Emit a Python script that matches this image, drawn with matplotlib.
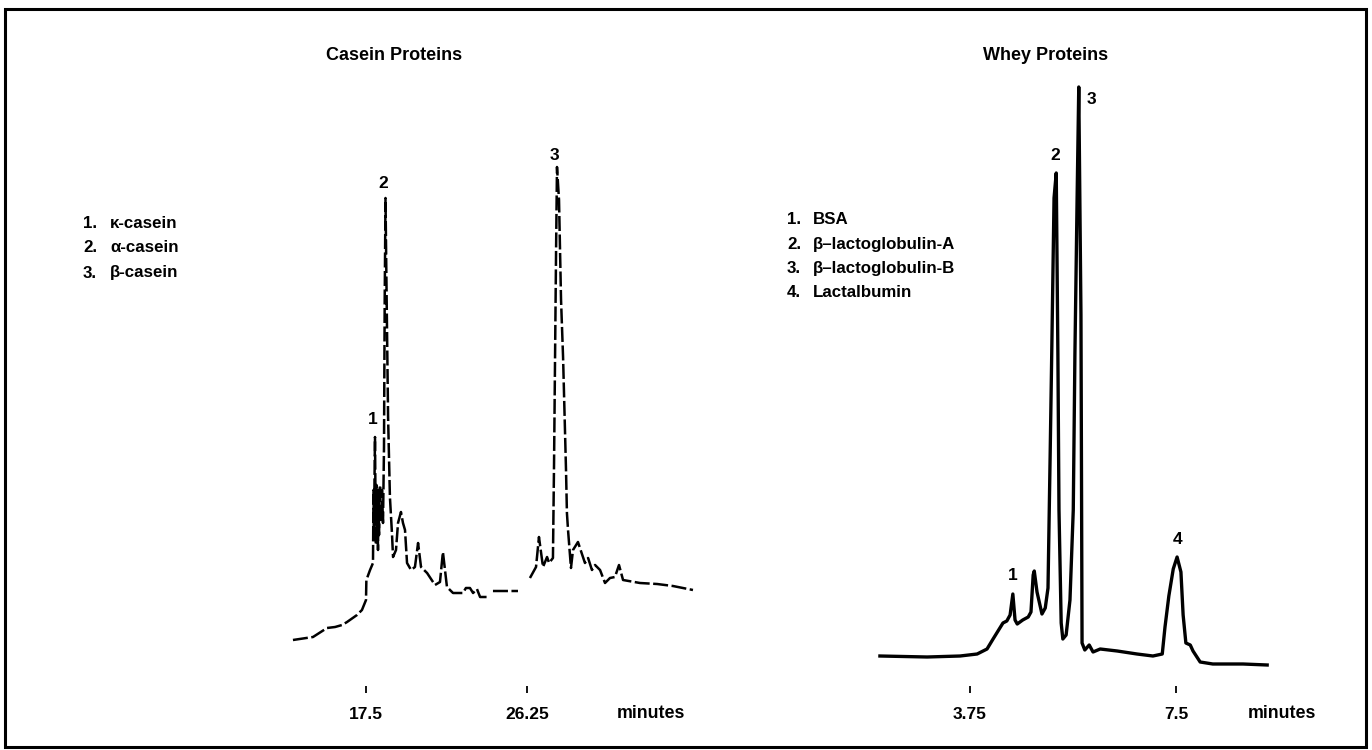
import numpy as np
import matplotlib
matplotlib.use("Agg")
import matplotlib.pyplot as plt
from matplotlib.patches import Rectangle

plt.rcParams['font.family'] = ['Liberation Sans', 'DejaVu Sans']
plt.rcParams['font.weight'] = 'bold'

# ---------------- data ----------------
nan = float('nan')
# Casein chromatogram (time in minutes, detector signal in arbitrary units); NaN = gap in trace
casein_time = [13.53, 14.62, 15.38, 15.82, 16.20, 16.47, 17.01, 17.28, 17.50, 17.52, 17.72, 17.88,
               17.908, 17.935, 17.962, 17.989, 18.016, 18.043, 18.071, 18.098, 18.125, 18.152,
               18.179, 18.207, 18.261, 18.315, 18.370, 18.424, 18.478, 18.516,
               18.56, 18.61, 18.70, 18.80, 18.91, 18.97, 19.13, 19.24, 19.40, 19.51, 19.62, 19.73,
               19.95, 20.16, 20.33, 20.49, 20.82, 21.25, 21.52, 21.68, 21.90, 22.23, 22.77, 22.93,
               23.15, 23.32, 23.53, 23.70, 24.13, nan, 24.40, 25.76, nan,
               26.41, 26.74, 26.90, 27.12, 27.34, 27.45, 27.66, 27.72, 27.83, 27.88, 27.99, 28.10,
               28.21, 28.37, 28.42, 28.48, 28.64, 28.75, 29.02, 29.40, 29.57, 29.78, 29.95, 30.22,
               30.49, 30.76, 31.03, 31.25, 31.47, 32.39, 33.32, 34.18, 35.27]
casein_signal = [10, 13, 22, 23, 25, 28, 35, 40, 50, 70, 80, 87,
                 160, 110, 170, 213, 150, 105, 165, 110, 155, 100,
                 160, 115, 165, 130, 160, 127, 203, 350,
                 452, 370, 233, 153, 117, 93, 100, 127, 138, 127, 120, 87,
                 80, 83, 107, 83, 77, 65, 68, 98, 63, 57, 57, 62,
                 62, 57, 61, 53, 53, nan, 59, 59, nan,
                 72, 83, 113, 83, 93, 87, 92, 187, 400, 483, 450, 350,
                 293, 180, 137, 120, 82, 100, 108, 87, 92, 80, 85, 80,
                 67, 72, 73, 85, 70, 67, 66, 64, 60]
casein_ticks = [17.5, 26.25]
casein_tick_labels = ["17.5", "26.25"]
casein_peak_ids = ["1", "2", "3"]
casein_peak_time = [17.88, 18.42, 27.72]
casein_peak_label_signal = [230, 466, 495]
casein_names = ["\u03ba-casein", "\u03b1-casein", "\u03b2-casein"]

# Whey chromatogram
whey_time = [2.11, 2.97, 3.57, 3.88, 4.06, 4.17, 4.26, 4.35, 4.42, 4.48, 4.53, 4.57, 4.61,
             4.71, 4.81, 4.86, 4.90, 4.92, 4.97, 5.06, 5.12, 5.17, 5.21, 5.24, 5.28, 5.32,
             5.35, 5.37, 5.41, 5.44, 5.50, 5.57, 5.63, 5.66, 5.70, 5.73, 5.77, 5.79, 5.84,
             5.92, 5.99, 6.12, 6.43, 6.79, 7.08, 7.25, 7.30, 7.37, 7.45, 7.52, 7.59, 7.63,
             7.68, 7.76, 7.81, 7.94, 8.17, 8.72, 9.16]
whey_signal = [14, 13, 14, 16, 21, 31, 39, 47, 49, 55, 76, 50, 46,
               50, 53, 58, 95, 99, 78, 56, 62, 82, 218, 324, 472, 497,
               316, 160, 47, 31, 35, 70, 160, 316, 472, 583, 355, 27, 20,
               25, 18, 21, 19, 16, 14, 16, 43, 74, 101, 113, 98, 55,
               27, 25, 19, 8, 6, 6, 5]
whey_ticks = [3.75, 7.5]
whey_tick_labels = ["3.75", "7.5"]
whey_peak_ids = ["1", "2", "3", "4"]
whey_peak_time = [4.53, 5.30, 5.97, 7.52]
whey_peak_label_signal = [94, 515, 571, 131]
whey_names = ["BSA", "\u03b2\u2013lactoglobulin-A", "\u03b2\u2013lactoglobulin-B", "Lactalbumin"]

# ---------------- layout ----------------
W, H = 1372, 750
fig = plt.figure(figsize=(W / 100, H / 100), dpi=100)

def fx(x):
    return x / W

def fy(y):
    return 1 - y / H

def make_axes(left, right, top, bottom, t_ref, px_ref, px_per_min, base_px):
    ax = fig.add_axes([fx(left), fy(bottom), fx(right - left), (bottom - top) / H])
    ax.set_xlim(t_ref + (left - px_ref) / px_per_min, t_ref + (right - px_ref) / px_per_min)
    ax.set_ylim(base_px - bottom, base_px - top)
    for sp in ax.spines.values():
        sp.set_visible(False)
    ax.set_yticks([])
    ax.patch.set_alpha(0)
    ax.tick_params(axis='x', direction='in', length=5, width=1.3, pad=10,
                   labelsize=12.5, colors='black')
    return ax

ax1 = make_axes(280, 710, 40, 693, 17.5, 366, 18.4, 650)
ax1.plot(casein_time, casein_signal, color='black', lw=1.8,
         linestyle=(0, (6, 1.4)), solid_joinstyle='round')
ax1.set_xticks(casein_ticks)
ax1.set_xticklabels(casein_tick_labels, fontweight='bold')
for pid, t, s in zip(casein_peak_ids, casein_peak_time, casein_peak_label_signal):
    ax1.text(t, s, pid, ha='center', va='center', fontsize=12.5, fontweight='bold')

ax2 = make_axes(870, 1330, 40, 693, 3.75, 970, 54.93, 670)
ax2.plot(whey_time, whey_signal, color='black', lw=2.4, solid_joinstyle='round')
ax2.set_xticks(whey_ticks)
ax2.set_xticklabels(whey_tick_labels, fontweight='bold')
for pid, t, s in zip(whey_peak_ids, whey_peak_time, whey_peak_label_signal):
    ax2.text(t, s, pid, ha='center', va='center', fontsize=12.5, fontweight='bold')

# titles
fig.text(fx(394), fy(55), "Casein Proteins", ha='center', va='center', fontsize=13, fontweight='bold')
fig.text(fx(1046), fy(55), "Whey Proteins", ha='center', va='center', fontsize=13, fontweight='bold')

# axis unit labels
fig.text(fx(651), fy(713), "minutes", ha='center', va='center', fontsize=12.8, fontweight='bold')
fig.text(fx(1282), fy(713), "minutes", ha='center', va='center', fontsize=12.8, fontweight='bold')

# legends
for i, name in enumerate(casein_names):
    y = 223 + 25 * i
    fig.text(fx(83), fy(y), f"{i + 1}.", ha='left', va='center', fontsize=12.2, fontweight='bold')
    fig.text(fx(110), fy(y), name, ha='left', va='center', fontsize=12.2, fontweight='bold')
for i, name in enumerate(whey_names):
    y = 220 + 24.3 * i
    fig.text(fx(787), fy(y), f"{i + 1}.", ha='left', va='center', fontsize=12.2, fontweight='bold')
    fig.text(fx(813), fy(y), name, ha='left', va='center', fontsize=12.2, fontweight='bold')

# frame
fig.patches.append(Rectangle((fx(5), fy(747)), fx(1361), (747 - 9) / H, transform=fig.transFigure,
                             fill=False, edgecolor='black', lw=2.2))

fig.savefig("out.png", dpi=100)
